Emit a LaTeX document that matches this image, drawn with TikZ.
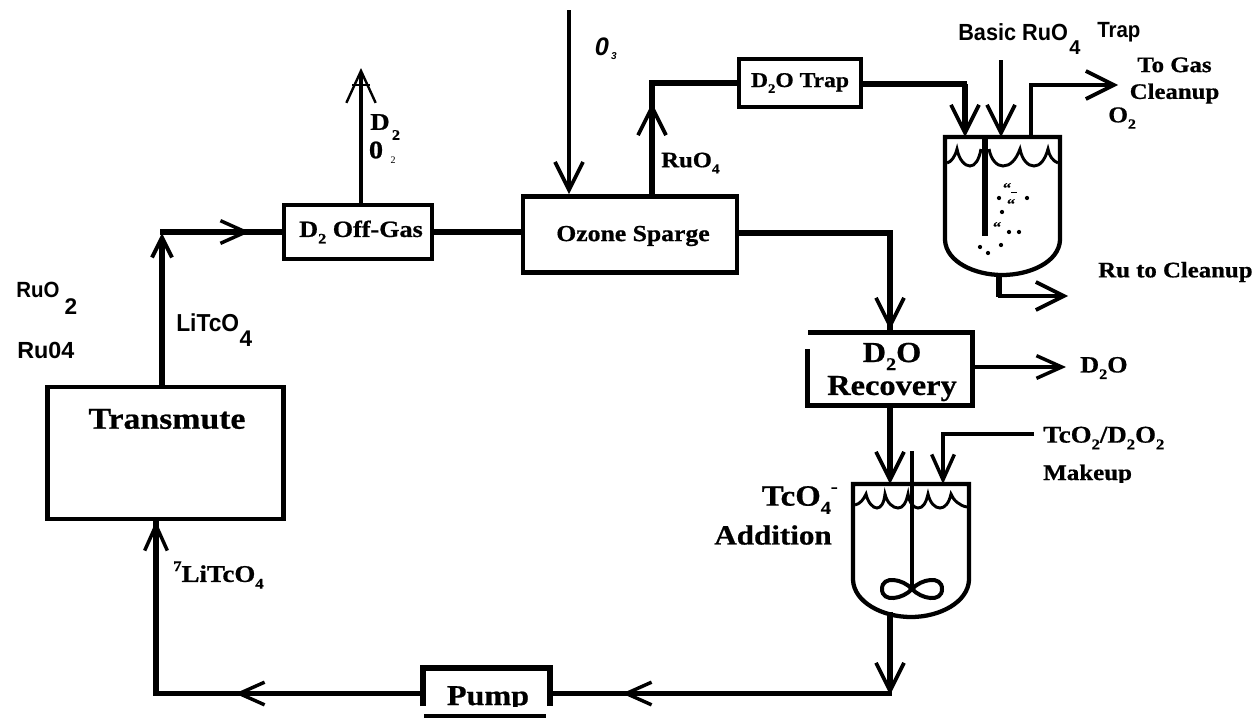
\documentclass[tikz,border=0pt]{standalone}
\usepackage{fontspec}
\usetikzlibrary{arrows.meta}
\setmainfont{Liberation Serif}
\newfontfamily\sr[FakeStretch=1.12,FakeBold=0.7]{Liberation Serif Bold}
\newfontfamily\hv[FakeStretch=0.93]{Liberation Sans Bold}
\newfontfamily\hvb{Liberation Sans Bold}
\newfontfamily\hvi{Liberation Sans Bold Italic}
\newcommand{\fs}[1]{\fontsize{#1}{#1}\selectfont}
\newcommand{\sbt}[1]{\raisebox{-.28em}{\scalebox{.62}{#1}}}
\newcommand{\spt}[1]{\raisebox{.45em}{\scalebox{.62}{#1}}}
\tikzset{
  x=0.75pt,y=-0.75pt,
  wire/.style={line width=3.8pt,line cap=butt,line join=miter},
  thin wire/.style={line width=3pt,line join=miter},
  box/.style={draw,line width=3.6pt,inner sep=0pt},
  ghost/.style={inner sep=0pt,minimum width=0pt},
  barb/.style={-{Straight Barb[length=21pt,width=21pt,line width=2.8pt]}},
  barbs/.style={-{Straight Barb[length=19pt,width=17pt,line width=2.6pt]}},
  lab/.style={inner sep=0pt,font=\sr\fs{15}},
  sans/.style={inner sep=0pt,font=\hv\fs{15}},
}
\begin{document}
\begin{tikzpicture}
\useasboundingbox (0,0) rectangle (1255,718);
% boxes
\node[box,minimum width=236pt*0.75,minimum height=132pt*0.75] (trans) at (165.5,453) {};
\node[box,minimum width=148pt*0.75,minimum height=54pt*0.75,line width=3.2pt] (off) at (358,232) {};
\node[box,minimum width=214pt*0.75,minimum height=76pt*0.75] (oz) at (630,234.5) {};
\node[box,minimum width=122pt*0.75,minimum height=48pt*0.75,line width=3.2pt] (trap) at (800,83) {};
\node[ghost,minimum width=164pt*0.75,minimum height=73pt*0.75] (rec) at (890,369) {};
\draw[wire] (rec.west |- 0,349) -- (rec.south west) -- (rec.south east) -- (rec.north east) -- (rec.north west);
\node[ghost,minimum width=126pt*0.75,minimum height=50pt*0.75] (pump) at (487,693) {};
\draw[wire] (423,706) -- (423,668) -- (550,668) -- (550,706);
\draw[line width=2.6pt] (424,716) -- (546,716);
% box texts
\node[lab,font=\sr\fs{22.6}] (ttrans) at (167,419) {Transmute};
\node[lab,font=\sr\fs{17.5}] (toff) at (361,232) {D\sbt{2} Off-Gas};
\node[lab,font=\sr\fs{17.2}] (toz) at (633,236) {Ozone Sparge};
\node[lab,font=\sr\fs{15.8}] (ttrap) at (800,83) {D\sbt{2}O Trap};
\node[lab,font=\sr\fs{21.7},align=center] (trec) at (892,372) {D\sbt{2}O\\[3pt]Recovery};
\begin{scope}
\clip (430,670) rectangle (545,706);
\node[lab,font=\sr\fs{21.5},anchor=base] (tpump) at (488,705) {Pump};
\end{scope}
% tanks
\coordinate (t1nw) at (945,137); \coordinate (t1ne) at (1060,137);
\draw[wire,line width=3.2pt] (t1nw) -- (945,240) .. controls (946,262) and (975,275) .. (1002,275) .. controls (1030,275) and (1059,262) .. (1060,240) -- (t1ne) -- cycle;
\draw[line width=2.2pt] (947,163) .. controls (951,162) and (955,157) .. (957,149) .. controls (959,160) and (965,166) .. (970,166) .. controls (975,166) and (979,160) .. (981,149);
\draw[line width=2.2pt] (989,149) .. controls (991,160) and (997,166) .. (1003,166) .. controls (1010,166) and (1016,160) .. (1020,149) .. controls (1022,160) and (1028,166) .. (1034,166) .. controls (1040,166) and (1045,160) .. (1048,149) .. controls (1049,156) and (1053,161) .. (1058,163);
\draw[line width=5pt] (985,137) -- (985,236);
\foreach \x/\y in {999/198,1027/198,1002/212,1009/232,1019/232,980/247,988/253,1001/245}
  \fill (\x,\y) circle (1.6pt);
\fill (1011,191.5) rectangle (1017,193);
\node[lab,font=\sr\fs{11}] (q1) at (1007,188) {“};
\node[lab,font=\sr\fs{11}] (q2) at (1011,204) {“};
\node[lab,font=\sr\fs{11}] (q3) at (997,227) {“};

\coordinate (t2nw) at (853,484); \coordinate (t2ne) at (969,484);
\draw[wire,line width=3.2pt] (t2nw) -- (853,580) .. controls (854,602) and (882,617) .. (911,617) .. controls (940,617) and (968,602) .. (969,580) -- (t2ne) -- cycle;
\draw[line width=2.2pt] (855,505) .. controls (860,504) and (864,499) .. (866,494) .. controls (868,503) and (873,508) .. (877,508) .. controls (881,508) and (884,503) .. (885,494) .. controls (887,503) and (893,508) .. (898,508) .. controls (903,508) and (906,503) .. (908,494) .. controls (909,503) and (914,508) .. (918,508) .. controls (923,508) and (926,503) .. (928,494) .. controls (930,503) and (935,508) .. (940,508) .. controls (945,508) and (949,503) .. (951,494) .. controls (953,500) and (960,506) .. (967,507);
\coordinate (stirtop) at (912,451); \coordinate (stirbot) at (912,589);
\draw[line width=3.4pt] (stirtop) -- (stirbot);
\draw[line width=3pt] (stirbot) .. controls (903,579) and (882,575) .. (882,589) .. controls (882,603) and (903,599) .. (912,589) .. controls (921,579) and (942,575) .. (942,589) .. controls (942,603) and (921,599) .. (912,589);
% connectors: main loop
\coordinate (corner1) at (160,232);
\draw[wire,-{Straight Barb[length=15pt,width=15pt,line width=3pt]}] (162,386) -- (162,233);
\draw[wire] (corner1) -- (off.west);
\draw[wire,barbs] (164,232) -- (250,232);
\draw[wire] (off.east) -- (oz.west |- off.east);
\draw[thin wire,-{Straight Barb[length=24pt,width=22pt,line width=1.8pt]}] (off.north -| 361,0) -- (361,68);
\draw[line width=1.4pt] (352,85) -- (370,85);
\draw[thin wire,barb] (569,10) -- (oz.north -| 569,0);
\draw[wire] (oz.north -| 652,0) -- (652,83) -- (trap.west);
\draw[wire,barb] (652,150) -- (652,103);
\draw[wire] (trap.east |- 0,84) -- (967,84);
\draw[wire,barb] (965,84) -- (t1nw -| 965,0);
\draw[thin wire,barb] (1001,60) -- (t1nw -| 1001,0);
\draw[thin wire,barb] (t1nw -| 1031,0) -- (1031,85) -- (1118,85);
\draw[wire] (999,274) -- (999,297);
\draw[thin wire,barb] (997.5,296) -- (1068,296);
\draw[wire] (oz.east |- 0,233) -- (890,233) -- (890,332);
\draw[wire,barb] (890,280) -- (890,330);
\draw[thin wire,barbs] (rec.east |- 0,367) -- (1066,367);
\draw[wire,barb] (rec.south -| 890,0) -- (t2nw -| 890,0);
\draw[thin wire,barbs] (1034,434) -- (943,434) -- (t2nw -| 943,0);
\draw[wire,barb] (890,612) -- (890,695);
\draw[wire] (891.5,693.5) -- (550,693.5);
\draw[wire,barbs] (700,693.5) -- (622,693.5);
\draw[wire] (423,693.5) -- (156,693.5) -- (156,521);
\draw[wire,barbs] (300,693.5) -- (235,693.5);
\draw[wire,barbs] (156,600) -- (156,521);
% labels
\node[lab,font=\sr\fs{18}] (ld2) at (380,122) {D};
\node[lab,font=\sr\fs{11}] (ld22) at (396,135) {2};
\node[lab,font=\sr\fs{19}] (l02) at (376,150) {0};
\node[lab,font=\fs{7.5}] (l022) at (393,160) {2};
\node[font=\hvi\fs{19},inner sep=0pt] (lo3) at (602,47) {0};
\node[font=\hvi\fs{7.5},inner sep=0pt] (lo33) at (614,56) {3};
\node[lab,font=\sr\fs{16.5},anchor=west] (lru) at (661,163) {RuO\sbt{4}};
\node[sans,font=\hv\fs{17.5},anchor=west] (lbas) at (958,32) {Basic RuO};
\node[sans,font=\hvb\fs{15}] (lbas4) at (1075,48) {4};
\node[sans,font=\hv\fs{16.5},anchor=west] (lbas2) at (1097,32) {Trap};
\node[lab,font=\sr\fs{16.6},align=center] (lgas) at (1174.5,80.5) {To Gas\\[3.5pt]Cleanup};
\node[lab,font=\sr\fs{17},anchor=west] (lo2) at (1108,118) {O\sbt{2}};
\node[lab,font=\sr\fs{16.6},anchor=west] (lruc) at (1098,272) {Ru to Cleanup};
\node[lab,font=\sr\fs{17.5},anchor=west] (ldo) at (1080,368) {D\sbt{2}O};
\node[lab,font=\sr\fs{18},anchor=west] (ltc) at (1043,438) {TcO\sbt{2}/D\sbt{2}O\sbt{2}};
\begin{scope}
\clip (1040,455) rectangle (1140,482);
\node[lab,font=\sr\fs{16.7},anchor=base west] (lmk) at (1043,480) {Makeup};
\end{scope}
\node[lab,font=\sr\fs{22},anchor=east] (ltco) at (838,500) {TcO\sbt{4}\spt{-}};
\node[lab,font=\sr\fs{20.8},anchor=east] (ladd) at (832,535) {Addition};
\node[sans,font=\hv\fs{16.5},anchor=west] (lruo) at (16,290) {RuO};
\node[sans,font=\hvb\fs{17}] (lruo2) at (71,307) {2};
\node[sans,font=\hvb\fs{17.5},anchor=west] (lr04) at (17,350) {Ru04};
\node[sans,font=\hv\fs{18.4},anchor=west] (llit) at (176,323) {LiTcO};
\node[sans,font=\hvb\fs{17}] (llit4) at (246,339) {4};
\node[lab,font=\sr\fs{18},anchor=west] (l7) at (173,575) {\spt{7}LiTcO\sbt{4}};
\end{tikzpicture}
\end{document}
